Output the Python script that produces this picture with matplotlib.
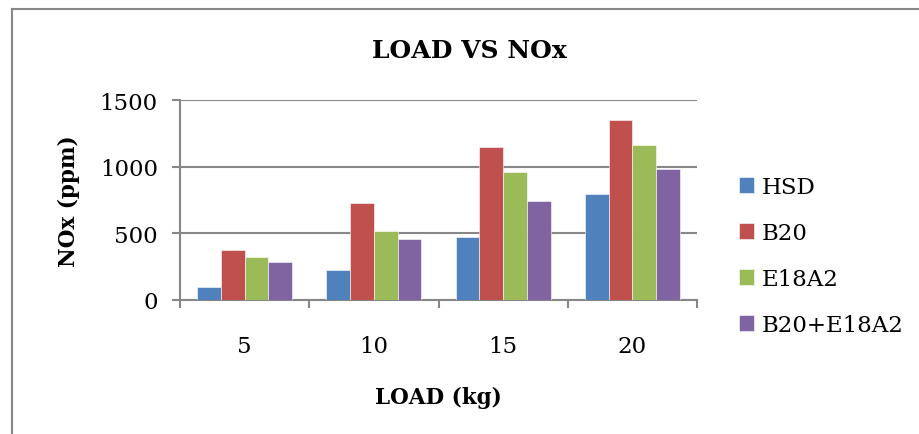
import matplotlib.pyplot as plt
import numpy as np
from matplotlib.lines import Line2D

loads = ["5", "10", "15", "20"]
series_names = ["HSD", "B20", "E18A2", "B20+E18A2"]
hsd = [100, 228, 473, 792]
b20 = [372, 730, 1144, 1350]
e18a2 = [325, 520, 963, 1163]
b20_e18a2 = [285, 458, 741, 980]
colors = ["#4F81BD", "#C0504D", "#9BBB59", "#8064A2"]
yticks = [0, 500, 1000, 1500]

plt.rcParams["font.family"] = "DejaVu Serif"
GRAY = "#878787"

fig = plt.figure(figsize=(9.19, 4.35), dpi=100)
ax = fig.add_axes([180 / 919, 1 - 301 / 435, 517 / 919, 200 / 435])

# outer chart frame (only top and left edges are visible in the crop)
fig.add_artist(Line2D([12 / 919, 12 / 919], [0, 1 - 10 / 435], transform=fig.transFigure,
                      color=GRAY, lw=1.5))
fig.add_artist(Line2D([12 / 919, 1], [1 - 10 / 435, 1 - 10 / 435], transform=fig.transFigure,
                      color=GRAY, lw=1.5))

x = np.arange(len(loads))
width = 0.184
all_series = [hsd, b20, e18a2, b20_e18a2]
for i, (vals, name) in enumerate(zip(all_series, series_names)):
    ax.bar(x + (i - 1.5) * width, vals, width, color=colors[i], label=name,
           edgecolor="white", linewidth=0.4, zorder=3)

ax.set_xlim(-0.5, len(loads) - 0.5)
ax.set_ylim(0, 1500)
ax.set_yticks(yticks)
ax.set_yticklabels([str(v) for v in yticks], fontsize=16.5)
ax.yaxis.grid(True, color=GRAY, lw=1.5, zorder=0)

ax.set_xticks(x)
ax.set_xticklabels(loads, fontsize=16.5)
ax.set_xticks(np.arange(-0.5, len(loads)), minor=True)
ax.tick_params(axis="x", which="major", length=0, pad=25)
ax.tick_params(axis="x", which="minor", length=6, width=1.5, color=GRAY)
ax.tick_params(axis="y", length=6, width=1.5, color=GRAY, pad=10)

for s in ["top", "right"]:
    ax.spines[s].set_visible(False)
for s in ["left", "bottom"]:
    ax.spines[s].set_color(GRAY)
    ax.spines[s].set_linewidth(1.5)

ax.set_xlabel("LOAD (kg)", fontsize=15.5, fontweight="bold", labelpad=21)
ax.set_ylabel("NOx (ppm)", fontsize=15.5, fontweight="bold", labelpad=14)
fig.text(469 / 919, 1 - 51 / 435, "LOAD VS NOx", fontsize=18, fontweight="bold",
         ha="center", va="center")

fig.legend(loc="center left", bbox_to_anchor=(718 / 919, 1 - 257 / 435), frameon=False,
           fontsize=16.5, handlelength=0.65, handleheight=0.65, handletextpad=0.35,
           labelspacing=1.05)

fig.savefig("out.png", dpi=100)
